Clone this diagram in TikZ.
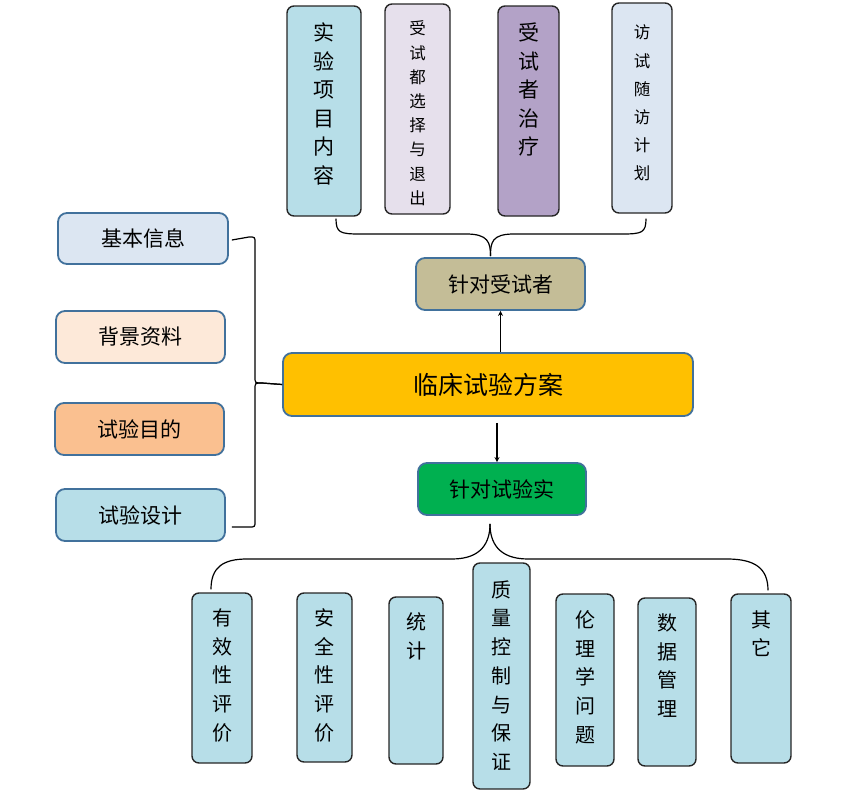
\documentclass[tikz,border=0pt]{standalone}
\usepackage{fontspec}
\setmainfont{Noto Sans CJK SC}
\usetikzlibrary{arrows.meta}
\definecolor{itemsfill}{HTML}{B7DEE8}
\definecolor{exitfill}{HTML}{E6E0EC}
\definecolor{treatfill}{HTML}{B3A2C7}
\definecolor{visitfill}{HTML}{DCE6F2}
\definecolor{subjfill}{HTML}{C4BD97}
\definecolor{planfill}{HTML}{FFC000}
\definecolor{trialfill}{HTML}{00B050}
\definecolor{basicfill}{HTML}{DCE6F2}
\definecolor{backfill}{HTML}{FDE9D9}
\definecolor{aimfill}{HTML}{FAC090}
\definecolor{designfill}{HTML}{B7DEE8}
\definecolor{edgeblue}{HTML}{41719C}
% text in the upright boxes, pushed to the top
\newcommand{\colstack}[3]{\parbox[c][#1][t]{30pt}{\centering\vspace*{#2}#3}}
\tikzset{
  box/.style={draw=edgeblue, line width=1.8pt, rounded corners=9pt,
    minimum width=169, minimum height=52, inner sep=0pt,
    font=\fontsize{21}{21}\selectfont},
  colbox/.style={draw=black!85, line width=1.4pt, rounded corners=7pt,
    inner sep=0pt, font=\fontsize{20}{28.7}\selectfont},
  thincol/.style={colbox, font=\fontsize{16.5}{24.2}\selectfont},
  brace/.style={line width=1.2pt}
}
\begin{document}
\begin{tikzpicture}[x=1pt,y=-1pt]
        \useasboundingbox (0,0) rectangle (852,806);
        % top row
        \node[colbox, fill=itemsfill, minimum width=74, font=\fontsize{21}{28.5}\selectfont] (items) at (324,111) {\colstack{210pt}{17pt}{实\\验\\项\\目\\内\\容}};
        \node[thincol, fill=exitfill, minimum width=65] (exit) at (417.5,109) {\colstack{210pt}{17pt}{受\\试\\都\\选\\择\\与\\退\\出}};
        \node[colbox, fill=treatfill, minimum width=61, font=\fontsize{21}{28.5}\selectfont] (treat) at (528.5,111) {\colstack{210pt}{17pt}{受\\试\\者\\治\\疗}};
        \node[thincol, fill=visitfill, minimum width=60, font=\fontsize{16.5}{28.2}\selectfont] (visit) at (642,108) {\colstack{210pt}{22pt}{访\\试\\随\\访\\计\\划}};
        % middle
        \node[box, fill=subjfill] (subj) at (500.5,284) {针对受试者};
        \node[box, fill=planfill, minimum width=410, minimum height=63, font=\fontsize{25}{25}\selectfont] (plan) at (488,384.5) {临床试验方案};
        \node[box, fill=trialfill, minimum width=168] (trial) at (502,489) {针对试验实};
        % left column
        \node[box, fill=basicfill, minimum width=170, minimum height=51] (basic) at (143,238.5) {基本信息};
        \node[box, fill=backfill, minimum height=52] (backg) at (140.5,337) {背景资料};
        \node[box, fill=aimfill, minimum height=52] (aim) at (139.5,429) {试验目的};
        \node[box, fill=designfill, minimum height=52] (design) at (140.5,515) {试验设计};
        % bottom row
        \node[colbox, fill=itemsfill, minimum width=60] (eff) at (222,678) {\colstack{170pt}{15.5pt}{有\\效\\性\\评\\价}};
        \node[colbox, fill=itemsfill, minimum width=55] (safe) at (324.5,677.5) {\colstack{169pt}{15.5pt}{安\\全\\性\\评\\价}};
        \node[colbox, fill=itemsfill, minimum width=54] (stat) at (416,680.5) {\colstack{167pt}{15.5pt}{统\\计}};
        \node[colbox, fill=itemsfill, minimum width=57] (qual) at (501.5,676) {\colstack{226pt}{17.5pt}{质\\量\\控\\制\\与\\保\\证}};
        \node[colbox, fill=itemsfill, minimum width=58] (ethic) at (585,680) {\colstack{172pt}{16.5pt}{伦\\理\\学\\问\\题}};
        \node[colbox, fill=itemsfill, minimum width=58] (data) at (667,682) {\colstack{168pt}{15.5pt}{数\\据\\管\\理}};
        \node[colbox, fill=itemsfill, minimum width=60] (other) at (761,678.5) {\colstack{169pt}{16.5pt}{其\\它}};
        % arrows
        \draw[-{Stealth[length=5pt,width=5pt]}, line width=1.2pt] (subj.south |- plan.north) -- (subj.south);
        \draw[-{Stealth[length=5pt,width=5pt]}, line width=1.2pt] ([xshift=9pt,yshift=-6pt]plan.south) -- ([xshift=-5pt]trial.north);
        % braces
        \draw[brace] ([xshift=12pt,yshift=-2pt]items.south) .. controls +(0,14) and +(-20,0) .. (360,234) -- (466,234) .. controls +(22,0) and +(0,-14) .. ([xshift=-10pt,yshift=1pt]subj.north);
        \draw[brace] ([xshift=4pt,yshift=-5pt]visit.south) .. controls +(0,14) and +(20,0) .. (622,234) -- (514,234) .. controls +(-22,0) and +(0,-14) .. ([xshift=-10pt,yshift=1pt]subj.north);
        \draw[brace] ([xshift=3pt,yshift=-1.5pt]basic.east) -- (249,237) .. controls (255,237) .. (255,243) -- (255,377) .. controls (255,383) .. (262,383) -- (plan.west);
        \draw[brace] ([xshift=6pt,yshift=-12pt]design.east) -- (249,527) .. controls (255,527) .. (255,521) -- (255,389) .. controls (255,383) .. (262,383) -- (plan.west);
        \draw[brace] ([xshift=-11pt,yshift=3pt]eff.north) .. controls +(0,-22) and +(-24,0) .. (247,559) -- (452,559) .. controls +(30,0) and +(0,18) .. ([xshift=-12pt,yshift=-8pt]trial.south);
        \draw[brace] ([xshift=7pt,yshift=3pt]other.north) .. controls +(0,-22) and +(28,0) .. (727,559) -- (528,559) .. controls +(-30,0) and +(0,18) .. ([xshift=-12pt,yshift=-8pt]trial.south);
      \end{tikzpicture}
\end{document}
